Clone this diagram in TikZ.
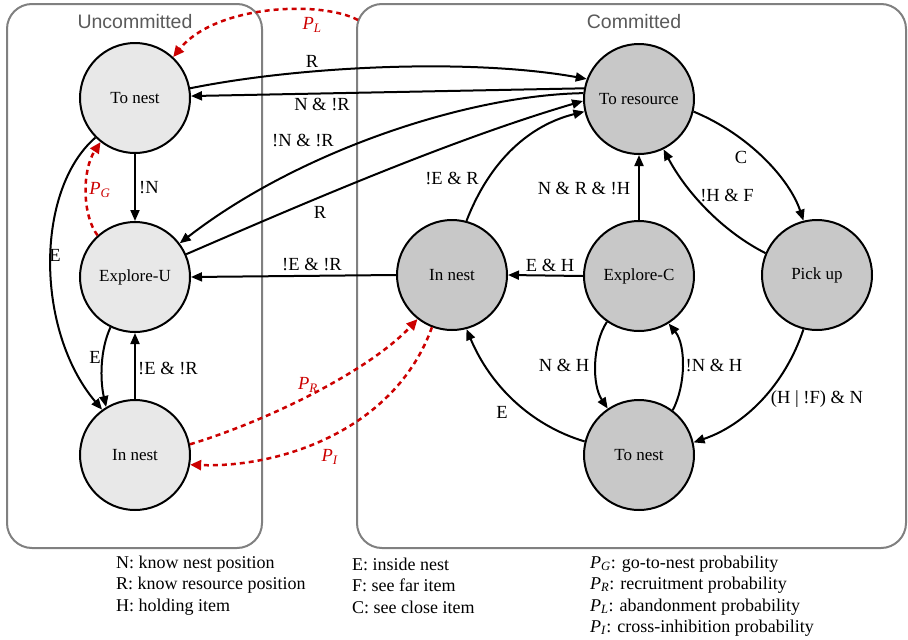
\documentclass[tikz,border=0pt]{standalone}
\usepackage{fontspec}
\setmainfont{Liberation Serif}
\newfontfamily\titlefont{Liberation Sans}
\usetikzlibrary{arrows.meta}
\definecolor{ufill}{HTML}{E8E8E8}
\definecolor{cfill}{HTML}{C8C8C8}
\definecolor{boxgray}{HTML}{808080}
\definecolor{titlegray}{HTML}{5A5A5A}
\definecolor{pred}{HTML}{CC0000}
\newcommand{\pp}[1]{\textit{P}\textsubscript{\textit{#1}}}
\begin{document}
\begin{tikzpicture}[x=1pt,y=-1pt,
  state/.style={circle, draw=black, line width=2pt, minimum size=110pt, inner sep=0pt, font=\fontsize{17}{20}\selectfont},
  ustate/.style={state, fill=ufill},
  cstate/.style={state, fill=cfill},
  group/.style={draw=boxgray, line width=2pt, rounded corners=25pt},
  trans/.style={line width=2pt, -{Triangle[length=11pt,width=9pt]}},
  prob/.style={draw=pred, line width=2.5pt, dash pattern=on 5pt off 4pt, -{Triangle[length=11pt,width=10pt]}, pred},
  lbl/.style={font=\fontsize{18.5}{20}\selectfont, inner sep=1pt},
  plbl/.style={font=\fontsize{18.5}{20}\selectfont, text=pred, inner sep=1pt},
  grouptitle/.style={font=\titlefont\fontsize{19.5}{22}\selectfont, text=titlegray},
  legend/.style={font=\fontsize{18}{20}\selectfont, anchor=west, inner sep=0pt},
]
\useasboundingbox (0,0) rectangle (908,640);
% groups
\draw[group] (7,4) rectangle (262,548);
\draw[group] (357,4) rectangle (906,548);
\node[grouptitle] (ut) at (135,22) {Uncommitted};
\node[grouptitle] (ct) at (634,22) {Committed};
\coordinate (plstart) at (358,20);
% states
\node[ustate] (tnU) at (135,98) {To nest};
\node[ustate] (eU) at (135,277) {Explore-U};
\node[ustate] (iU) at (135,455) {In nest};
\node[cstate] (tr) at (639,99) {To resource};
\node[cstate] (iC) at (452,275) {In nest};
\node[cstate] (eC) at (639,276) {Explore-C};
\node[cstate] (pu) at (817,275) {Pick up};
\node[cstate] (tC) at (639,455) {To nest};
% transitions
\draw[trans] (tnU.10) .. controls (300,66) and (470,58) .. (tr.159);
\draw[trans] (tr.169) -- (tnU.2);
\draw[trans] (tr.174) .. controls (470,95) and (300,150) .. (eU.37);
\draw[trans] (eU.24) .. controls (300,205) and (450,140) .. (tr.182);
\draw[trans] (iC.75) .. controls (490,160) and (530,125) .. (tr.193);
\draw[trans] (iC.west) -- (eU.east);
\draw[trans] (eC.west) -- (iC.east);
\draw[trans] (eC.north) -- (tr.south);
\draw[trans] (tr.-13.5) .. controls (750,135) and (790,180) .. (pu.104);
\draw[trans] (pu.157) .. controls (720,230) and (685,190) .. (tr.-64);
\draw[trans] (pu.256) .. controls (785,385) and (745,425) .. (tC.13);
\draw[trans] (eC.235) .. controls (592,345) and (592,385) .. (tC.124);
\draw[trans] (tC.53) .. controls (686,385) and (686,345) .. (eC.-58);
\draw[trans] (tC.166.5) .. controls (530,425) and (490,385) .. (iC.-75);
\draw[trans] (tnU.south) -- (eU.north);
\draw[trans] (tnU.225) .. controls (35,190) and (35,330) .. (iU.126);
\draw[trans] (eU.244) .. controls (100,350) and (100,380) .. (iU.121);
\draw[trans] (iU.north) -- (eU.south);
% probabilistic
\draw[prob] (eU.132) .. controls (82,215) and (82,170) .. (tnU.232);
\draw[prob] (plstart) .. controls (320,0) and (215,5) .. (tnU.47);
\draw[prob] (iU.11) .. controls (270,420) and (370,370) .. (iC.232);
\draw[prob] (iC.249) .. controls (395,430) and (280,468) .. (iU.-10);
% labels
\node[lbl] (l1) at (312,61) {R};
\node[lbl] (l2) at (322,104) {N \& !R};
\node[lbl] (l3) at (303,140) {!N \& !R};
\node[lbl] (l4) at (320,212) {R};
\node[lbl] (l5) at (452,178) {!E \& R};
\node[lbl] (l6) at (312,264) {!E \& !R};
\node[lbl] (l7) at (550,265) {E \& H};
\node[lbl] (l8) at (584,188) {N \& R \& !H};
\node[lbl] (l9) at (741,157) {C};
\node[lbl] (l10) at (727,195) {!H \& F};
\node[lbl] (l11) at (817,399) {(H | !F) \& N};
\node[lbl] (l12) at (564,365) {N \& H};
\node[lbl] (l13) at (714,365) {!N \& H};
\node[lbl] (l14) at (502,412) {E};
\node[lbl] (l15) at (149,188) {!N};
\node[lbl] (l16) at (55,255) {E};
\node[lbl] (l17) at (95,357) {E};
\node[lbl] (l18) at (168,368) {!E \& !R};
\node[plbl] (p1) at (312,25) {\pp{L}};
\node[plbl] (p2) at (100,190) {\pp{G}};
\node[plbl] (p3) at (308,385) {\pp{R}};
\node[plbl] (p4) at (330,457) {\pp{I}};
% legend
\node[legend] (g1) at (116,564) {N: know nest position};
\node[legend] (g2) at (116,585) {R: know resource position};
\node[legend] (g3) at (116,607) {H: holding item};
\node[legend] (g4) at (352,564) {E: inside nest};
\node[legend] (g5) at (352,585) {F: see far item};
\node[legend] (g6) at (352,607) {C: see close item};
\node[legend] (g7) at (590,564) {\pp{G}: go-to-nest probability};
\node[legend] (g8) at (590,585) {\pp{R}: recruitment probability};
\node[legend] (g9) at (590,607) {\pp{L}: abandonment probability};
\node[legend] (g10) at (590,628) {\pp{I}: cross-inhibition probability};
\end{tikzpicture}
\end{document}
